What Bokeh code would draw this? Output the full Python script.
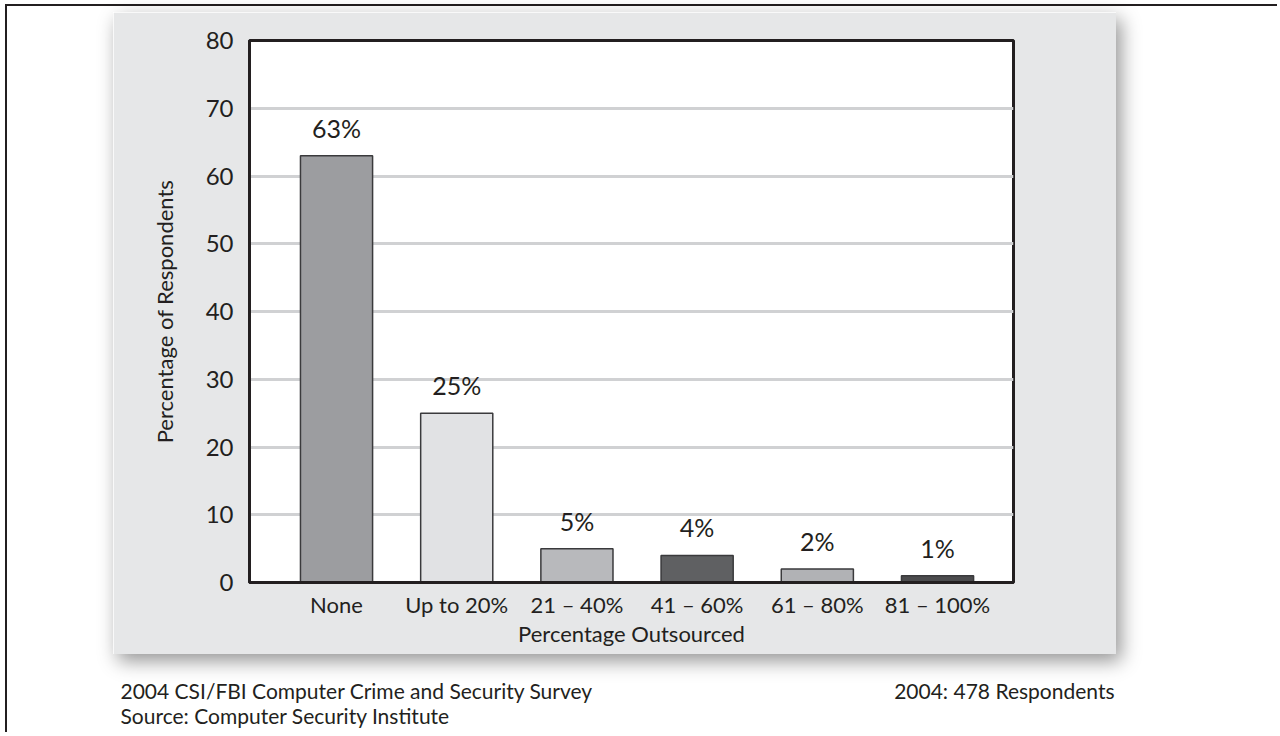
from bokeh.plotting import figure
from bokeh.layouts import column, row
from bokeh.models import Range1d, FixedTicker, ColumnDataSource
from bokeh.core.properties import value
from bokeh.embed import file_html
from bokeh.resources import INLINE

# ---- data ----
categories = ["None", "Up to 20%", "21 \u2013 40%", "41 \u2013 60%", "61 \u2013 80%", "81 \u2013 100%"]
percentages = [63, 25, 5, 4, 2, 1]
value_labels = ["63%", "25%", "5%", "4%", "2%", "1%"]
bar_colors = ["#9c9da0", "#e1e2e4", "#b8b9bc", "#5f6062", "#b1b2b5", "#4b4b4d"]
y_ticks = [0, 10, 20, 30, 40, 50, 60, 70, 80]
x_axis_title = "Percentage Outsourced"
y_axis_title = "Percentage of Respondents"
footer_left = ["2004 CSI/FBI Computer Crime and Security Survey", "Source: Computer Security Institute"]
footer_right = ["2004: 478 Respondents"]

FONT = "Lato"
INK = "#231f20"
PANEL = "#e6e7e8"

# page geometry (px)
PL, PR, PT, PB = 113, 1116, 12, 654      # grey panel
FL, FR, FT, FB = 249, 1013, 40, 582      # chart frame
ROOT_X, ROOT_Y, BORDER = 5, 4, 2
IN_X, IN_Y = ROOT_X + BORDER, ROOT_Y + BORDER

p = figure(width=PR - PL, height=PB - PT, output_backend="svg", toolbar_location=None,
           x_range=Range1d(-0.724, 5.632), y_range=Range1d(0, 80),
           min_border_left=FL - PL, min_border_right=PR - FR,
           min_border_top=FT - PT, min_border_bottom=PB - FB,
           background_fill_color="white", border_fill_color=PANEL,
           outline_line_color=INK, outline_line_width=3)
p.margin = (PT - IN_Y, 0, 0, PL - IN_X)
p.styles = {"box-shadow": "5px 7px 18px rgba(0,0,0,0.42)"}

# ---- bars ----
src = ColumnDataSource(dict(x=list(range(len(categories))), top=percentages,
                            color=bar_colors, label=value_labels))
p.vbar(x="x", top="top", width=0.6, source=src, fill_color="color",
       line_color="#3a3a3c", line_width=1.5)
p.text(x="x", y="top", text="label", source=src, y_offset=-28,
       text_align="center", text_baseline="alphabetic",
       text_font=value(FONT), text_font_size="25px", text_color=INK)

# ---- axes ----
p.xaxis.ticker = FixedTicker(ticks=list(range(len(categories))))
p.xaxis.major_label_overrides = {i: c for i, c in enumerate(categories)}
p.yaxis.ticker = FixedTicker(ticks=y_ticks)
for ax in (p.xaxis[0], p.yaxis[0]):
    ax.axis_line_color = INK
    ax.axis_line_width = 3
    ax.major_tick_line_color = None
    ax.minor_tick_line_color = None
    ax.major_label_text_font = FONT
    ax.major_label_text_color = INK
    ax.axis_label_text_font = FONT
    ax.axis_label_text_color = INK
    ax.axis_label_text_font_style = "normal"

p.yaxis.major_label_text_font_size = "24px"
p.yaxis.major_label_standoff = 10
p.yaxis.axis_label = y_axis_title
p.yaxis.axis_label_text_font_size = "22px"
p.yaxis.axis_label_standoff = 25

p.xaxis.major_label_text_font_size = "22px"
p.xaxis.major_label_standoff = 2
p.xaxis.axis_label = x_axis_title
p.xaxis.axis_label_text_font_size = "22px"
p.xaxis.axis_label_standoff = -1

p.xgrid.grid_line_color = None
p.ygrid.ticker = FixedTicker(ticks=y_ticks)
p.ygrid.grid_line_color = "#d0d1d3"
p.ygrid.grid_line_width = 3

# ---- footer (page-pixel coordinates) ----
FW, FH = 1270, 78
f = figure(width=FW, height=FH, output_backend="svg", toolbar_location=None,
           x_range=Range1d(IN_X, IN_X + FW), y_range=Range1d(PB + FH, PB),
           x_axis_location=None, y_axis_location=None, min_border=0,
           min_border_left=0, min_border_right=0, min_border_top=0, min_border_bottom=0,
           outline_line_color=None, background_fill_alpha=0, border_fill_alpha=0)
f.grid.grid_line_color = None
f.text(x=[120, 120], y=[690, 715], text=footer_left, text_align="left",
       text_baseline="middle", text_font=value(FONT), text_font_size="21px",
       text_color=INK)
f.text(x=[1114], y=[690], text=footer_right, text_align="right",
       text_baseline="middle", text_font=value(FONT), text_font_size="21px",
       text_color=INK)

root = column(p, row(f))
root.styles = {"margin-left": f"{ROOT_X}px", "margin-top": f"{ROOT_Y}px",
               "border-top": f"{BORDER}px solid {INK}",
               "border-left": f"{BORDER}px solid {INK}",
               "background-color": "white"}

open("out.html", "w").write(file_html(root, INLINE))
